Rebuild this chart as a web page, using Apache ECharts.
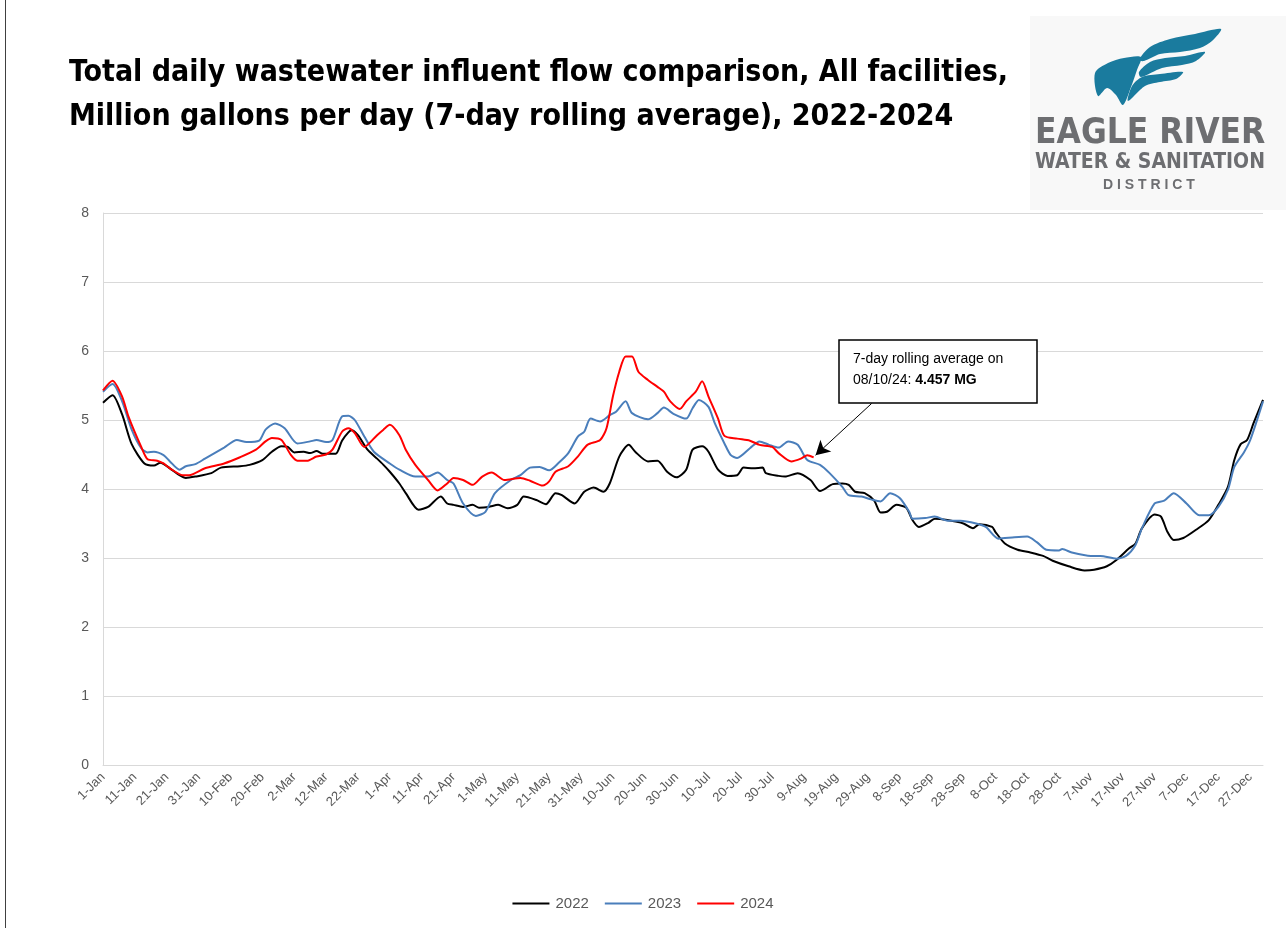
<!DOCTYPE html>
<html>
<head>
<meta charset="utf-8">
<script src="https://cdn.jsdelivr.net/npm/echarts@6/dist/echarts.min.js"></script>
<style>
html,body{margin:0;padding:0;background:#fff;}
#chart{width:1286px;height:928px;}
</style>
</head>
<body>
<div id="chart"></div>
<script>
// x tick labels (every 10th day of a 365-day year)
const tickLabels = ['1-Jan','11-Jan','21-Jan','31-Jan','10-Feb','20-Feb','2-Mar','12-Mar','22-Mar','1-Apr','11-Apr','21-Apr','1-May','11-May','21-May','31-May','10-Jun','20-Jun','30-Jun','10-Jul','20-Jul','30-Jul','9-Aug','19-Aug','29-Aug','8-Sep','18-Sep','28-Sep','8-Oct','18-Oct','28-Oct','7-Nov','17-Nov','27-Nov','7-Dec','17-Dec','27-Dec'];
const seriesNames = ['2022','2023','2024'];

// day-of-year index (0 = 1-Jan) and 7-day rolling average flow (MGD)
const days2022 = [0,3,6,9,13,16,18,21,24,26,29,34,37,43,46,50,53,56,58,60,63,65,67,69,73,75,77,78,80,83,86,88,90,93,95,99,102,106,108,110,113,116,118,121,124,127,130,132,136,139,142,144,148,151,154,157,159,162,165,167,171,174,177,180,183,185,188,190,193,196,199,201,204,207,208,212,214,218,222,225,229,232,234,236,239,242,244,246,249,252,254,256,259,261,265,270,273,275,279,280,283,287,291,295,298,303,308,311,315,318,322,324,326,330,332,334,336,339,343,347,350,353,355,357,359,361,364];
const flow2022 = [5.25,5.36,5.08,4.65,4.37,4.34,4.38,4.30,4.20,4.16,4.18,4.23,4.31,4.33,4.35,4.42,4.54,4.62,4.61,4.53,4.54,4.52,4.55,4.51,4.51,4.70,4.82,4.85,4.78,4.57,4.44,4.35,4.25,4.08,3.94,3.70,3.74,3.89,3.79,3.77,3.74,3.77,3.73,3.74,3.77,3.72,3.77,3.89,3.84,3.78,3.94,3.91,3.79,3.96,4.02,3.96,4.08,4.47,4.64,4.54,4.40,4.41,4.25,4.17,4.28,4.57,4.62,4.54,4.28,4.19,4.20,4.31,4.30,4.31,4.23,4.19,4.18,4.23,4.13,3.97,4.07,4.08,4.06,3.96,3.94,3.83,3.66,3.67,3.77,3.73,3.55,3.45,3.51,3.57,3.55,3.50,3.43,3.49,3.45,3.38,3.21,3.12,3.08,3.03,2.96,2.88,2.82,2.83,2.88,2.97,3.14,3.21,3.43,3.63,3.60,3.38,3.26,3.29,3.41,3.55,3.77,4.03,4.42,4.65,4.71,4.95,5.29];

const days2023 = [0,3,6,9,12,14,16,19,21,24,26,29,32,38,42,45,49,51,54,57,61,65,67,70,72,75,77,79,82,85,90,93,98,102,105,108,110,113,117,120,123,128,131,134,137,140,143,146,149,151,153,156,159,161,164,166,171,174,176,179,183,185,187,190,192,195,197,199,203,206,209,212,215,218,221,225,228,232,234,238,241,244,247,250,253,254,258,261,265,269,274,277,281,286,290,293,296,300,301,304,310,313,318,321,324,326,330,333,336,340,344,347,350,353,355,358,360,364];
const flow2023 = [5.41,5.52,5.27,4.86,4.59,4.53,4.54,4.49,4.40,4.28,4.33,4.36,4.44,4.60,4.71,4.68,4.70,4.86,4.95,4.88,4.66,4.69,4.71,4.68,4.71,5.05,5.06,5.00,4.76,4.54,4.37,4.28,4.18,4.18,4.24,4.13,4.08,3.79,3.61,3.67,3.94,4.13,4.20,4.31,4.32,4.27,4.38,4.52,4.76,4.83,5.02,4.98,5.07,5.12,5.27,5.10,5.01,5.10,5.18,5.09,5.02,5.17,5.29,5.19,4.95,4.66,4.49,4.45,4.59,4.69,4.64,4.60,4.69,4.64,4.42,4.35,4.23,4.03,3.91,3.89,3.85,3.82,3.94,3.87,3.67,3.57,3.58,3.60,3.54,3.54,3.50,3.45,3.28,3.30,3.31,3.23,3.12,3.11,3.13,3.08,3.03,3.03,2.99,3.03,3.19,3.43,3.79,3.83,3.94,3.79,3.62,3.62,3.74,3.99,4.32,4.53,4.71,5.27];

const days2024 = [0,3,6,8,12,14,17,19,21,25,27,32,38,43,48,51,53,56,59,61,64,67,70,72,75,77,79,82,86,88,90,93,95,98,102,105,108,110,113,116,119,122,126,131,134,138,140,142,146,149,152,156,158,160,162,164,166,168,171,174,176,178,181,183,186,188,190,193,195,199,203,206,210,212,216,219,221,223];
const flow2024 = [5.43,5.57,5.34,5.05,4.61,4.43,4.41,4.37,4.30,4.20,4.20,4.30,4.37,4.46,4.57,4.69,4.74,4.71,4.49,4.41,4.41,4.47,4.50,4.57,4.83,4.88,4.81,4.61,4.78,4.86,4.93,4.78,4.57,4.35,4.13,3.98,4.08,4.16,4.13,4.06,4.18,4.24,4.13,4.16,4.12,4.05,4.11,4.25,4.33,4.47,4.64,4.71,4.88,5.34,5.70,5.92,5.92,5.70,5.58,5.48,5.41,5.27,5.16,5.27,5.41,5.56,5.34,5.02,4.77,4.73,4.70,4.64,4.61,4.52,4.40,4.44,4.49,4.457];

const lineColors = ['#000000','#4a7ebb','#ff0000'];
const FONT = "'Liberation Sans', Arial, sans-serif";
const NARROW = "'Liberation Sans Narrow', 'DejaVu Sans Condensed', sans-serif";

function pairs(d, v){ return d.map((x,i)=>[x, v[i]]); }

const chart = echarts.init(document.getElementById('chart'), null, {renderer:'canvas'});
const TEAL = '#1a7b9e';

const option = {
  animation: false,
  backgroundColor: '#ffffff',
  title: {
    text: 'Total daily wastewater influent flow comparison, All facilities,\nMillion gallons per day (7-day rolling average), 2022-2024',
    left: 64, top: 46,
    textStyle: {fontFamily: NARROW, fontWeight: 'bold', fontSize: 30, lineHeight: 44, color: '#000'}
  },
  grid: {left: 103, right: 23, top: 213, bottom: 163, containLabel: false},
  legend: {
    bottom: 12, left: 'center',
    itemWidth: 37, itemHeight: 2, itemGap: 16,
    icon: 'rect',
    textStyle: {fontFamily: FONT, fontSize: 15, color: '#595959', padding: [0, 0, 0, 1]},
    data: seriesNames
  },
  xAxis: {
    type: 'value', min: 0, max: 364, interval: 10,
    axisLine: {show: true, lineStyle: {color: '#d9d9d9', width: 1}},
    axisTick: {show: false},
    splitLine: {show: false},
    axisLabel: {
      rotate: 45, margin: 10, showMaxLabel: false,
      fontFamily: FONT, fontSize: 13, color: '#595959',
      formatter: function(v){ return (v % 10 === 0 && tickLabels[v/10]) ? tickLabels[v/10] : ''; }
    }
  },
  yAxis: {
    type: 'value', min: 0, max: 8, interval: 1,
    axisLine: {show: true, lineStyle: {color: '#d9d9d9', width: 1}},
    axisTick: {show: false},
    splitLine: {lineStyle: {color: '#d9d9d9', width: 1}},
    axisLabel: {margin: 14, fontFamily: FONT, fontSize: 14, color: '#595959'}
  },
  series: [
    {name: seriesNames[0], type: 'line', symbol: 'none', smooth: 0.25, data: pairs(days2022, flow2022),
     lineStyle: {color: lineColors[0], width: 2}, itemStyle: {color: lineColors[0]}},
    {name: seriesNames[1], type: 'line', symbol: 'none', smooth: 0.25, data: pairs(days2023, flow2023),
     lineStyle: {color: lineColors[1], width: 2}, itemStyle: {color: lineColors[1]}},
    {name: seriesNames[2], type: 'line', symbol: 'none', smooth: 0.25, data: pairs(days2024, flow2024),
     lineStyle: {color: lineColors[2], width: 2}, itemStyle: {color: lineColors[2]},
     markLine: {
       silent: true, symbol: ['none','arrow'], symbolSize: [12, 14],
       label: {show: false},
       lineStyle: {color: '#000', width: 1, type: 'solid'},
       data: [[{coord: [241.2, 5.24]}, {coord: [223.6, 4.49]}]]
     }}
  ],
  graphic: [
    // annotation box
    {type: 'rect', shape: {x: 839, y: 340, width: 198, height: 63},
     style: {fill: '#fff', stroke: '#000', lineWidth: 1.5}, z: 100},
    {type: 'text', x: 853, y: 349, z: 101,
     style: {
       text: '7-day rolling average on\n{n|08/10/24: }{b|4.457 MG}',
       font: '14px ' + FONT, lineHeight: 21, fill: '#000',
       rich: {n: {fontFamily: FONT, fontSize: 14, lineHeight: 21, fill: '#000'}, b: {fontFamily: FONT, fontSize: 14, lineHeight: 21, fontWeight: 'bold', fill: '#000'}}
     }},
    // logo background
    {type: 'rect', z: 1, shape: {x: 1030, y: 16, width: 256, height: 194}, style: {fill: '#f8f8f8'}},
    // logo wings
    {type: 'polygon', z: 2, shape: {smooth: 0.3, points: [[1095,73],[1108,63],[1124,58],[1141,57],[1137,70],[1131,87],[1123,105],[1116,95],[1107,88],[1098,96]]}, style: {fill: TEAL}},
    {type: 'polygon', z: 2, shape: {smooth: 0.3, points: [[1139,60],[1150,47],[1170,39],[1195,34],[1221,29],[1212,41],[1200,48],[1180,52],[1160,54],[1144,61]]}, style: {fill: TEAL}},
    {type: 'polygon', z: 2, shape: {smooth: 0.3, points: [[1139,72],[1150,62],[1165,58],[1185,56],[1205,52],[1196,61],[1182,65],[1162,68],[1141,77]]}, style: {fill: TEAL}},
    {type: 'polygon', z: 2, shape: {smooth: 0.3, points: [[1132,86],[1142,77],[1160,74],[1183,72],[1176,79],[1160,82],[1145,86],[1128,101]]}, style: {fill: TEAL}},
    // logo text
    {type: 'text', z: 2, x: 1035, y: 116,
     style: {text: 'EAGLE RIVER', font: 'bold 35px ' + NARROW, fill: '#6d6e71'}},
    {type: 'text', z: 2, x: 1035, y: 152,
     style: {text: 'WATER & SANITATION', font: 'bold 21px ' + NARROW, fill: '#6d6e71'}},
    {type: 'text', z: 2, x: 1103, y: 178,
     style: {text: 'D I S T R I C T', font: 'bold 14px ' + FONT, fill: '#6d6e71'}},
    // outer chart border (left edge)
    {type: 'line', z: 0, shape: {x1: 5.5, y1: 0, x2: 5.5, y2: 928}, style: {stroke: '#404040', lineWidth: 1}}
  ]
};
chart.setOption(option);
</script>
</body>
</html>
